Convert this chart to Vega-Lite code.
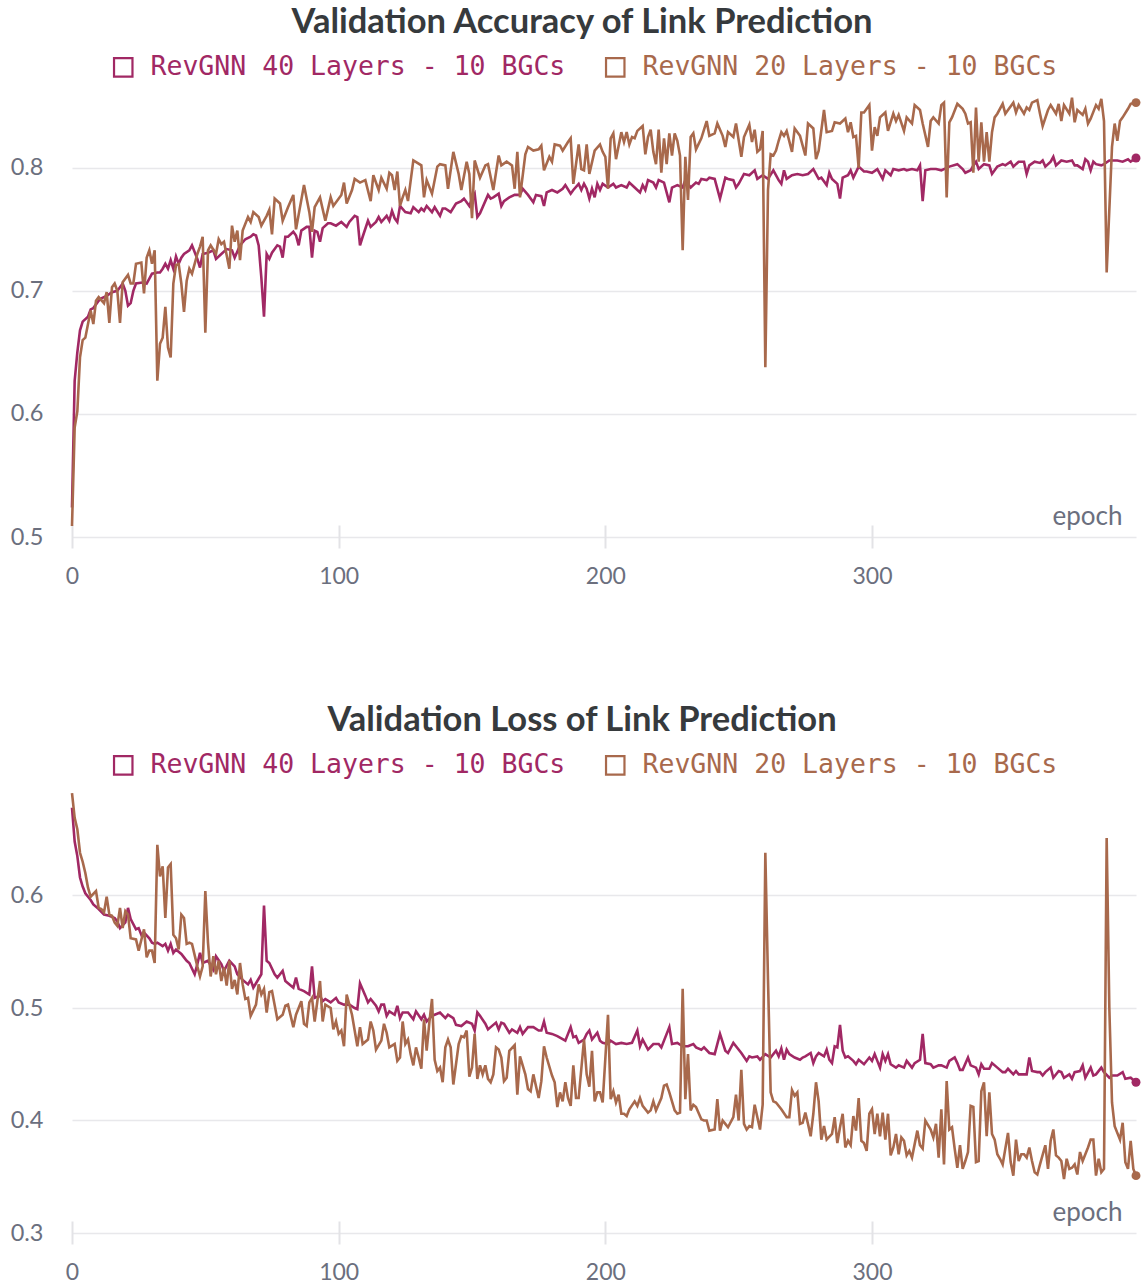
{
"$schema": "https://vega.github.io/schema/vega-lite/v6.json",
"padding": {"left": 10, "top": 4, "right": 4, "bottom": 0},
"background": "white",
"config": {"view": {"stroke": null}, "font": "Lato"},
"spacing": 114,
"resolve": {"scale": {"color": "independent"}, "legend": {"color": "independent"}},
"datasets": {
"acc40": [
{"epoch":0,"value":0.524},{"epoch":1,"value":0.627},{"epoch":2,"value":0.650},{"epoch":3,"value":0.668},{"epoch":4,"value":0.675},{"epoch":6,"value":0.679},{"epoch":7,"value":0.685},{"epoch":8,"value":0.686},{"epoch":10,"value":0.692},{"epoch":11,"value":0.694},{"epoch":13,"value":0.696},{"epoch":15,"value":0.699},{"epoch":17,"value":0.700},{"epoch":19,"value":0.706},{"epoch":20,"value":0.700},{"epoch":21,"value":0.688},{"epoch":22,"value":0.690},{"epoch":23,"value":0.700},{"epoch":24,"value":0.706},{"epoch":27,"value":0.707},{"epoch":28,"value":0.706},{"epoch":30,"value":0.714},{"epoch":32,"value":0.715},{"epoch":33,"value":0.715},{"epoch":34,"value":0.718},{"epoch":35,"value":0.722},{"epoch":36,"value":0.718},{"epoch":37,"value":0.725},{"epoch":38,"value":0.718},{"epoch":39,"value":0.728},{"epoch":40,"value":0.722},{"epoch":41,"value":0.727},{"epoch":42,"value":0.730},{"epoch":44,"value":0.733},{"epoch":45,"value":0.737},{"epoch":47,"value":0.726},{"epoch":48,"value":0.719},{"epoch":49,"value":0.730},{"epoch":51,"value":0.731},{"epoch":53,"value":0.733},{"epoch":54,"value":0.726},{"epoch":56,"value":0.730},{"epoch":58,"value":0.734},{"epoch":60,"value":0.733},{"epoch":61,"value":0.727},{"epoch":63,"value":0.737},{"epoch":65,"value":0.742},{"epoch":67,"value":0.744},{"epoch":68,"value":0.746},{"epoch":69,"value":0.745},{"epoch":70,"value":0.737},{"epoch":71,"value":0.711},{"epoch":72,"value":0.679},{"epoch":73,"value":0.730},{"epoch":74,"value":0.726},{"epoch":75,"value":0.731},{"epoch":77,"value":0.737},{"epoch":78,"value":0.736},{"epoch":79,"value":0.727},{"epoch":80,"value":0.744},{"epoch":81,"value":0.744},{"epoch":83,"value":0.748},{"epoch":84,"value":0.745},{"epoch":85,"value":0.737},{"epoch":86,"value":0.749},{"epoch":88,"value":0.752},{"epoch":89,"value":0.752},{"epoch":90,"value":0.727},{"epoch":91,"value":0.749},{"epoch":92,"value":0.748},{"epoch":93,"value":0.740},{"epoch":94,"value":0.751},{"epoch":96,"value":0.755},{"epoch":97,"value":0.755},{"epoch":99,"value":0.753},{"epoch":101,"value":0.756},{"epoch":103,"value":0.752},{"epoch":104,"value":0.756},{"epoch":106,"value":0.761},{"epoch":107,"value":0.760},{"epoch":108,"value":0.737},{"epoch":109,"value":0.744},{"epoch":111,"value":0.757},{"epoch":112,"value":0.752},{"epoch":114,"value":0.756},{"epoch":115,"value":0.760},{"epoch":116,"value":0.756},{"epoch":118,"value":0.761},{"epoch":119,"value":0.757},{"epoch":120,"value":0.765},{"epoch":121,"value":0.759},{"epoch":122,"value":0.756},{"epoch":123,"value":0.769},{"epoch":125,"value":0.764},{"epoch":127,"value":0.763},{"epoch":128,"value":0.768},{"epoch":130,"value":0.764},{"epoch":131,"value":0.767},{"epoch":132,"value":0.765},{"epoch":133,"value":0.769},{"epoch":135,"value":0.764},{"epoch":136,"value":0.768},{"epoch":138,"value":0.761},{"epoch":139,"value":0.767},{"epoch":140,"value":0.767},{"epoch":142,"value":0.764},{"epoch":144,"value":0.771},{"epoch":146,"value":0.773},{"epoch":147,"value":0.775},{"epoch":149,"value":0.769},{"epoch":150,"value":0.775},{"epoch":151,"value":0.779},{"epoch":152,"value":0.760},{"epoch":153,"value":0.763},{"epoch":156,"value":0.778},{"epoch":157,"value":0.775},{"epoch":158,"value":0.776},{"epoch":160,"value":0.779},{"epoch":161,"value":0.769},{"epoch":162,"value":0.773},{"epoch":164,"value":0.776},{"epoch":166,"value":0.778},{"epoch":168,"value":0.778},{"epoch":169,"value":0.783},{"epoch":171,"value":0.778},{"epoch":173,"value":0.772},{"epoch":174,"value":0.778},{"epoch":176,"value":0.777},{"epoch":177,"value":0.769},{"epoch":178,"value":0.780},{"epoch":180,"value":0.782},{"epoch":182,"value":0.780},{"epoch":184,"value":0.783},{"epoch":185,"value":0.786},{"epoch":187,"value":0.779},{"epoch":188,"value":0.782},{"epoch":190,"value":0.787},{"epoch":191,"value":0.782},{"epoch":192,"value":0.787},{"epoch":193,"value":0.783},{"epoch":194,"value":0.775},{"epoch":195,"value":0.783},{"epoch":196,"value":0.776},{"epoch":197,"value":0.787},{"epoch":198,"value":0.782},{"epoch":199,"value":0.787},{"epoch":201,"value":0.784},{"epoch":203,"value":0.787},{"epoch":204,"value":0.784},{"epoch":206,"value":0.786},{"epoch":208,"value":0.784},{"epoch":209,"value":0.788},{"epoch":211,"value":0.784},{"epoch":213,"value":0.780},{"epoch":214,"value":0.786},{"epoch":215,"value":0.782},{"epoch":216,"value":0.790},{"epoch":218,"value":0.788},{"epoch":219,"value":0.784},{"epoch":220,"value":0.790},{"epoch":222,"value":0.788},{"epoch":224,"value":0.772},{"epoch":225,"value":0.784},{"epoch":227,"value":0.786},{"epoch":229,"value":0.784},{"epoch":230,"value":0.790},{"epoch":232,"value":0.784},{"epoch":234,"value":0.788},{"epoch":235,"value":0.787},{"epoch":236,"value":0.791},{"epoch":238,"value":0.790},{"epoch":239,"value":0.792},{"epoch":241,"value":0.791},{"epoch":243,"value":0.775},{"epoch":245,"value":0.792},{"epoch":246,"value":0.791},{"epoch":248,"value":0.790},{"epoch":249,"value":0.784},{"epoch":250,"value":0.787},{"epoch":252,"value":0.795},{"epoch":254,"value":0.794},{"epoch":256,"value":0.798},{"epoch":257,"value":0.791},{"epoch":259,"value":0.794},{"epoch":261,"value":0.791},{"epoch":263,"value":0.798},{"epoch":265,"value":0.790},{"epoch":266,"value":0.787},{"epoch":267,"value":0.798},{"epoch":268,"value":0.791},{"epoch":270,"value":0.794},{"epoch":272,"value":0.795},{"epoch":274,"value":0.794},{"epoch":276,"value":0.795},{"epoch":278,"value":0.799},{"epoch":280,"value":0.791},{"epoch":281,"value":0.792},{"epoch":283,"value":0.786},{"epoch":284,"value":0.796},{"epoch":285,"value":0.791},{"epoch":287,"value":0.787},{"epoch":288,"value":0.775},{"epoch":289,"value":0.792},{"epoch":291,"value":0.794},{"epoch":292,"value":0.798},{"epoch":293,"value":0.792},{"epoch":295,"value":0.801},{"epoch":297,"value":0.797},{"epoch":298,"value":0.797},{"epoch":300,"value":0.796},{"epoch":302,"value":0.799},{"epoch":304,"value":0.791},{"epoch":305,"value":0.798},{"epoch":307,"value":0.794},{"epoch":308,"value":0.799},{"epoch":310,"value":0.798},{"epoch":312,"value":0.799},{"epoch":313,"value":0.798},{"epoch":315,"value":0.799},{"epoch":317,"value":0.798},{"epoch":318,"value":0.802},{"epoch":319,"value":0.773},{"epoch":320,"value":0.798},{"epoch":322,"value":0.799},{"epoch":324,"value":0.799},{"epoch":326,"value":0.798},{"epoch":327,"value":0.799},{"epoch":329,"value":0.801},{"epoch":332,"value":0.803},{"epoch":334,"value":0.799},{"epoch":335,"value":0.796},{"epoch":337,"value":0.798},{"epoch":338,"value":0.802},{"epoch":339,"value":0.805},{"epoch":340,"value":0.799},{"epoch":342,"value":0.803},{"epoch":344,"value":0.802},{"epoch":345,"value":0.795},{"epoch":347,"value":0.801},{"epoch":349,"value":0.803},{"epoch":350,"value":0.802},{"epoch":352,"value":0.805},{"epoch":353,"value":0.801},{"epoch":355,"value":0.805},{"epoch":357,"value":0.805},{"epoch":358,"value":0.795},{"epoch":359,"value":0.802},{"epoch":361,"value":0.805},{"epoch":363,"value":0.804},{"epoch":364,"value":0.806},{"epoch":365,"value":0.801},{"epoch":367,"value":0.805},{"epoch":368,"value":0.809},{"epoch":369,"value":0.802},{"epoch":371,"value":0.806},{"epoch":373,"value":0.805},{"epoch":375,"value":0.806},{"epoch":376,"value":0.802},{"epoch":377,"value":0.802},{"epoch":379,"value":0.799},{"epoch":380,"value":0.807},{"epoch":381,"value":0.805},{"epoch":382,"value":0.798},{"epoch":383,"value":0.805},{"epoch":384,"value":0.803},{"epoch":386,"value":0.802},{"epoch":387,"value":0.803},{"epoch":389,"value":0.806},{"epoch":391,"value":0.806},{"epoch":392,"value":0.806},{"epoch":394,"value":0.805},{"epoch":396,"value":0.807},{"epoch":397,"value":0.805},{"epoch":399,"value":0.808}
],
"acc20": [
{"epoch":0,"value":0.509},{"epoch":1,"value":0.589},{"epoch":2,"value":0.602},{"epoch":3,"value":0.646},{"epoch":4,"value":0.660},{"epoch":5,"value":0.662},{"epoch":6,"value":0.673},{"epoch":7,"value":0.684},{"epoch":8,"value":0.673},{"epoch":9,"value":0.692},{"epoch":10,"value":0.695},{"epoch":12,"value":0.690},{"epoch":13,"value":0.699},{"epoch":14,"value":0.674},{"epoch":15,"value":0.703},{"epoch":16,"value":0.706},{"epoch":17,"value":0.700},{"epoch":18,"value":0.674},{"epoch":19,"value":0.707},{"epoch":21,"value":0.713},{"epoch":22,"value":0.706},{"epoch":23,"value":0.706},{"epoch":24,"value":0.722},{"epoch":26,"value":0.723},{"epoch":27,"value":0.698},{"epoch":28,"value":0.727},{"epoch":29,"value":0.733},{"epoch":30,"value":0.722},{"epoch":31,"value":0.733},{"epoch":32,"value":0.627},{"epoch":33,"value":0.657},{"epoch":34,"value":0.662},{"epoch":35,"value":0.687},{"epoch":36,"value":0.654},{"epoch":37,"value":0.646},{"epoch":38,"value":0.706},{"epoch":39,"value":0.721},{"epoch":40,"value":0.722},{"epoch":41,"value":0.706},{"epoch":42,"value":0.683},{"epoch":43,"value":0.708},{"epoch":44,"value":0.718},{"epoch":45,"value":0.714},{"epoch":47,"value":0.730},{"epoch":48,"value":0.736},{"epoch":49,"value":0.744},{"epoch":50,"value":0.666},{"epoch":51,"value":0.733},{"epoch":52,"value":0.737},{"epoch":54,"value":0.730},{"epoch":55,"value":0.742},{"epoch":56,"value":0.738},{"epoch":57,"value":0.740},{"epoch":59,"value":0.718},{"epoch":60,"value":0.753},{"epoch":61,"value":0.740},{"epoch":62,"value":0.749},{"epoch":63,"value":0.725},{"epoch":64,"value":0.749},{"epoch":66,"value":0.760},{"epoch":67,"value":0.756},{"epoch":68,"value":0.764},{"epoch":70,"value":0.760},{"epoch":71,"value":0.753},{"epoch":73,"value":0.761},{"epoch":74,"value":0.766},{"epoch":75,"value":0.746},{"epoch":76,"value":0.775},{"epoch":78,"value":0.771},{"epoch":79,"value":0.757},{"epoch":81,"value":0.768},{"epoch":83,"value":0.778},{"epoch":84,"value":0.750},{"epoch":87,"value":0.786},{"epoch":89,"value":0.764},{"epoch":90,"value":0.748},{"epoch":91,"value":0.768},{"epoch":93,"value":0.776},{"epoch":95,"value":0.757},{"epoch":97,"value":0.776},{"epoch":98,"value":0.769},{"epoch":101,"value":0.778},{"epoch":102,"value":0.788},{"epoch":103,"value":0.771},{"epoch":105,"value":0.782},{"epoch":106,"value":0.791},{"epoch":108,"value":0.788},{"epoch":110,"value":0.790},{"epoch":112,"value":0.773},{"epoch":113,"value":0.794},{"epoch":115,"value":0.782},{"epoch":116,"value":0.792},{"epoch":118,"value":0.783},{"epoch":119,"value":0.796},{"epoch":120,"value":0.794},{"epoch":121,"value":0.782},{"epoch":122,"value":0.797},{"epoch":123,"value":0.769},{"epoch":124,"value":0.776},{"epoch":125,"value":0.782},{"epoch":126,"value":0.773},{"epoch":128,"value":0.806},{"epoch":131,"value":0.802},{"epoch":132,"value":0.776},{"epoch":133,"value":0.790},{"epoch":135,"value":0.779},{"epoch":137,"value":0.801},{"epoch":138,"value":0.803},{"epoch":140,"value":0.802},{"epoch":141,"value":0.783},{"epoch":143,"value":0.813},{"epoch":145,"value":0.795},{"epoch":146,"value":0.782},{"epoch":148,"value":0.805},{"epoch":149,"value":0.795},{"epoch":150,"value":0.759},{"epoch":151,"value":0.806},{"epoch":153,"value":0.792},{"epoch":155,"value":0.802},{"epoch":156,"value":0.803},{"epoch":158,"value":0.782},{"epoch":160,"value":0.810},{"epoch":161,"value":0.802},{"epoch":163,"value":0.805},{"epoch":165,"value":0.802},{"epoch":166,"value":0.783},{"epoch":167,"value":0.813},{"epoch":168,"value":0.776},{"epoch":170,"value":0.811},{"epoch":171,"value":0.817},{"epoch":173,"value":0.814},{"epoch":175,"value":0.815},{"epoch":176,"value":0.818},{"epoch":177,"value":0.798},{"epoch":179,"value":0.809},{"epoch":180,"value":0.805},{"epoch":181,"value":0.819},{"epoch":183,"value":0.818},{"epoch":184,"value":0.814},{"epoch":186,"value":0.821},{"epoch":187,"value":0.824},{"epoch":188,"value":0.787},{"epoch":190,"value":0.819},{"epoch":191,"value":0.799},{"epoch":192,"value":0.798},{"epoch":193,"value":0.819},{"epoch":194,"value":0.795},{"epoch":196,"value":0.814},{"epoch":198,"value":0.819},{"epoch":199,"value":0.813},{"epoch":200,"value":0.809},{"epoch":201,"value":0.783},{"epoch":202,"value":0.824},{"epoch":203,"value":0.828},{"epoch":204,"value":0.807},{"epoch":206,"value":0.829},{"epoch":207,"value":0.821},{"epoch":208,"value":0.829},{"epoch":209,"value":0.819},{"epoch":210,"value":0.825},{"epoch":211,"value":0.824},{"epoch":212,"value":0.830},{"epoch":214,"value":0.834},{"epoch":215,"value":0.811},{"epoch":216,"value":0.825},{"epoch":217,"value":0.831},{"epoch":218,"value":0.813},{"epoch":219,"value":0.803},{"epoch":220,"value":0.831},{"epoch":221,"value":0.796},{"epoch":222,"value":0.824},{"epoch":223,"value":0.803},{"epoch":224,"value":0.828},{"epoch":225,"value":0.810},{"epoch":226,"value":0.828},{"epoch":227,"value":0.822},{"epoch":228,"value":0.810},{"epoch":229,"value":0.733},{"epoch":230,"value":0.809},{"epoch":231,"value":0.774},{"epoch":232,"value":0.825},{"epoch":233,"value":0.828},{"epoch":234,"value":0.815},{"epoch":236,"value":0.824},{"epoch":238,"value":0.838},{"epoch":239,"value":0.826},{"epoch":241,"value":0.828},{"epoch":242,"value":0.836},{"epoch":244,"value":0.826},{"epoch":245,"value":0.817},{"epoch":246,"value":0.829},{"epoch":248,"value":0.825},{"epoch":249,"value":0.836},{"epoch":251,"value":0.809},{"epoch":252,"value":0.825},{"epoch":254,"value":0.835},{"epoch":255,"value":0.821},{"epoch":256,"value":0.831},{"epoch":257,"value":0.813},{"epoch":258,"value":0.815},{"epoch":259,"value":0.830},{"epoch":260,"value":0.638},{"epoch":261,"value":0.782},{"epoch":262,"value":0.811},{"epoch":263,"value":0.810},{"epoch":264,"value":0.814},{"epoch":265,"value":0.822},{"epoch":266,"value":0.829},{"epoch":267,"value":0.826},{"epoch":268,"value":0.830},{"epoch":270,"value":0.813},{"epoch":271,"value":0.832},{"epoch":273,"value":0.826},{"epoch":275,"value":0.810},{"epoch":276,"value":0.836},{"epoch":278,"value":0.832},{"epoch":279,"value":0.807},{"epoch":280,"value":0.814},{"epoch":282,"value":0.847},{"epoch":283,"value":0.829},{"epoch":285,"value":0.830},{"epoch":286,"value":0.837},{"epoch":288,"value":0.836},{"epoch":290,"value":0.840},{"epoch":291,"value":0.829},{"epoch":292,"value":0.837},{"epoch":293,"value":0.825},{"epoch":294,"value":0.826},{"epoch":295,"value":0.800},{"epoch":296,"value":0.845},{"epoch":297,"value":0.845},{"epoch":299,"value":0.851},{"epoch":300,"value":0.814},{"epoch":301,"value":0.833},{"epoch":302,"value":0.826},{"epoch":303,"value":0.841},{"epoch":305,"value":0.845},{"epoch":306,"value":0.830},{"epoch":308,"value":0.844},{"epoch":309,"value":0.838},{"epoch":310,"value":0.843},{"epoch":312,"value":0.830},{"epoch":313,"value":0.841},{"epoch":315,"value":0.836},{"epoch":316,"value":0.851},{"epoch":318,"value":0.847},{"epoch":319,"value":0.836},{"epoch":321,"value":0.817},{"epoch":322,"value":0.838},{"epoch":323,"value":0.841},{"epoch":325,"value":0.836},{"epoch":326,"value":0.851},{"epoch":327,"value":0.853},{"epoch":328,"value":0.776},{"epoch":329,"value":0.837},{"epoch":330,"value":0.841},{"epoch":332,"value":0.852},{"epoch":334,"value":0.848},{"epoch":335,"value":0.844},{"epoch":336,"value":0.836},{"epoch":337,"value":0.837},{"epoch":338,"value":0.796},{"epoch":339,"value":0.849},{"epoch":340,"value":0.805},{"epoch":341,"value":0.837},{"epoch":342,"value":0.805},{"epoch":343,"value":0.829},{"epoch":344,"value":0.805},{"epoch":345,"value":0.829},{"epoch":346,"value":0.841},{"epoch":347,"value":0.844},{"epoch":349,"value":0.852},{"epoch":350,"value":0.844},{"epoch":351,"value":0.847},{"epoch":353,"value":0.853},{"epoch":354,"value":0.845},{"epoch":355,"value":0.851},{"epoch":357,"value":0.844},{"epoch":358,"value":0.849},{"epoch":359,"value":0.847},{"epoch":360,"value":0.853},{"epoch":362,"value":0.855},{"epoch":363,"value":0.844},{"epoch":364,"value":0.834},{"epoch":366,"value":0.847},{"epoch":367,"value":0.851},{"epoch":369,"value":0.844},{"epoch":370,"value":0.852},{"epoch":371,"value":0.838},{"epoch":372,"value":0.851},{"epoch":374,"value":0.844},{"epoch":375,"value":0.857},{"epoch":376,"value":0.837},{"epoch":377,"value":0.847},{"epoch":379,"value":0.843},{"epoch":380,"value":0.848},{"epoch":381,"value":0.836},{"epoch":382,"value":0.840},{"epoch":384,"value":0.851},{"epoch":385,"value":0.848},{"epoch":386,"value":0.856},{"epoch":387,"value":0.838},{"epoch":388,"value":0.715},{"epoch":390,"value":0.817},{"epoch":391,"value":0.836},{"epoch":392,"value":0.822},{"epoch":393,"value":0.838},{"epoch":394,"value":0.841},{"epoch":396,"value":0.848},{"epoch":397,"value":0.852},{"epoch":399,"value":0.853}
],
"loss40": [
{"epoch":0,"value":0.678},{"epoch":1,"value":0.648},{"epoch":2,"value":0.635},{"epoch":3,"value":0.616},{"epoch":4,"value":0.608},{"epoch":5,"value":0.602},{"epoch":7,"value":0.596},{"epoch":8,"value":0.592},{"epoch":10,"value":0.588},{"epoch":12,"value":0.583},{"epoch":14,"value":0.582},{"epoch":16,"value":0.580},{"epoch":17,"value":0.577},{"epoch":18,"value":0.571},{"epoch":20,"value":0.576},{"epoch":21,"value":0.589},{"epoch":22,"value":0.579},{"epoch":24,"value":0.570},{"epoch":25,"value":0.571},{"epoch":26,"value":0.565},{"epoch":27,"value":0.567},{"epoch":29,"value":0.562},{"epoch":30,"value":0.558},{"epoch":31,"value":0.557},{"epoch":32,"value":0.558},{"epoch":34,"value":0.555},{"epoch":35,"value":0.557},{"epoch":36,"value":0.551},{"epoch":37,"value":0.557},{"epoch":38,"value":0.549},{"epoch":39,"value":0.552},{"epoch":41,"value":0.548},{"epoch":42,"value":0.545},{"epoch":43,"value":0.542},{"epoch":44,"value":0.540},{"epoch":46,"value":0.530},{"epoch":47,"value":0.539},{"epoch":48,"value":0.549},{"epoch":49,"value":0.540},{"epoch":51,"value":0.542},{"epoch":53,"value":0.534},{"epoch":54,"value":0.546},{"epoch":56,"value":0.539},{"epoch":57,"value":0.533},{"epoch":59,"value":0.542},{"epoch":61,"value":0.537},{"epoch":62,"value":0.530},{"epoch":64,"value":0.525},{"epoch":66,"value":0.521},{"epoch":67,"value":0.525},{"epoch":68,"value":0.518},{"epoch":69,"value":0.522},{"epoch":71,"value":0.530},{"epoch":72,"value":0.591},{"epoch":73,"value":0.542},{"epoch":74,"value":0.540},{"epoch":76,"value":0.530},{"epoch":77,"value":0.527},{"epoch":78,"value":0.530},{"epoch":79,"value":0.533},{"epoch":80,"value":0.524},{"epoch":81,"value":0.522},{"epoch":83,"value":0.518},{"epoch":84,"value":0.527},{"epoch":85,"value":0.517},{"epoch":87,"value":0.515},{"epoch":89,"value":0.512},{"epoch":90,"value":0.537},{"epoch":91,"value":0.509},{"epoch":93,"value":0.511},{"epoch":94,"value":0.506},{"epoch":95,"value":0.508},{"epoch":97,"value":0.505},{"epoch":99,"value":0.509},{"epoch":100,"value":0.505},{"epoch":102,"value":0.503},{"epoch":104,"value":0.503},{"epoch":106,"value":0.500},{"epoch":107,"value":0.499},{"epoch":108,"value":0.522},{"epoch":110,"value":0.511},{"epoch":111,"value":0.505},{"epoch":112,"value":0.508},{"epoch":114,"value":0.502},{"epoch":115,"value":0.497},{"epoch":116,"value":0.503},{"epoch":117,"value":0.503},{"epoch":118,"value":0.493},{"epoch":119,"value":0.497},{"epoch":121,"value":0.494},{"epoch":122,"value":0.502},{"epoch":123,"value":0.491},{"epoch":124,"value":0.496},{"epoch":126,"value":0.496},{"epoch":128,"value":0.490},{"epoch":129,"value":0.497},{"epoch":131,"value":0.490},{"epoch":132,"value":0.494},{"epoch":133,"value":0.488},{"epoch":135,"value":0.493},{"epoch":136,"value":0.494},{"epoch":138,"value":0.496},{"epoch":140,"value":0.491},{"epoch":141,"value":0.494},{"epoch":143,"value":0.491},{"epoch":144,"value":0.485},{"epoch":146,"value":0.484},{"epoch":148,"value":0.488},{"epoch":150,"value":0.486},{"epoch":151,"value":0.480},{"epoch":152,"value":0.496},{"epoch":153,"value":0.493},{"epoch":155,"value":0.486},{"epoch":156,"value":0.481},{"epoch":157,"value":0.483},{"epoch":159,"value":0.487},{"epoch":160,"value":0.481},{"epoch":161,"value":0.487},{"epoch":162,"value":0.486},{"epoch":164,"value":0.478},{"epoch":165,"value":0.481},{"epoch":167,"value":0.478},{"epoch":168,"value":0.483},{"epoch":169,"value":0.477},{"epoch":171,"value":0.483},{"epoch":173,"value":0.483},{"epoch":175,"value":0.480},{"epoch":176,"value":0.480},{"epoch":177,"value":0.488},{"epoch":178,"value":0.478},{"epoch":180,"value":0.477},{"epoch":182,"value":0.475},{"epoch":185,"value":0.471},{"epoch":187,"value":0.483},{"epoch":188,"value":0.474},{"epoch":189,"value":0.475},{"epoch":190,"value":0.469},{"epoch":192,"value":0.472},{"epoch":193,"value":0.477},{"epoch":194,"value":0.480},{"epoch":195,"value":0.472},{"epoch":197,"value":0.478},{"epoch":198,"value":0.471},{"epoch":199,"value":0.469},{"epoch":201,"value":0.468},{"epoch":202,"value":0.471},{"epoch":204,"value":0.468},{"epoch":206,"value":0.469},{"epoch":208,"value":0.468},{"epoch":210,"value":0.469},{"epoch":212,"value":0.480},{"epoch":213,"value":0.466},{"epoch":214,"value":0.472},{"epoch":216,"value":0.463},{"epoch":218,"value":0.468},{"epoch":220,"value":0.468},{"epoch":221,"value":0.465},{"epoch":224,"value":0.483},{"epoch":225,"value":0.468},{"epoch":227,"value":0.469},{"epoch":229,"value":0.466},{"epoch":231,"value":0.466},{"epoch":233,"value":0.468},{"epoch":234,"value":0.465},{"epoch":236,"value":0.463},{"epoch":237,"value":0.465},{"epoch":239,"value":0.460},{"epoch":241,"value":0.459},{"epoch":243,"value":0.477},{"epoch":245,"value":0.462},{"epoch":246,"value":0.460},{"epoch":248,"value":0.469},{"epoch":249,"value":0.466},{"epoch":251,"value":0.460},{"epoch":253,"value":0.453},{"epoch":254,"value":0.457},{"epoch":255,"value":0.456},{"epoch":257,"value":0.457},{"epoch":258,"value":0.454},{"epoch":260,"value":0.459},{"epoch":262,"value":0.456},{"epoch":264,"value":0.462},{"epoch":265,"value":0.457},{"epoch":266,"value":0.464},{"epoch":267,"value":0.454},{"epoch":268,"value":0.463},{"epoch":269,"value":0.459},{"epoch":271,"value":0.456},{"epoch":273,"value":0.454},{"epoch":274,"value":0.456},{"epoch":275,"value":0.457},{"epoch":277,"value":0.460},{"epoch":278,"value":0.451},{"epoch":279,"value":0.457},{"epoch":280,"value":0.460},{"epoch":282,"value":0.457},{"epoch":283,"value":0.463},{"epoch":284,"value":0.454},{"epoch":285,"value":0.451},{"epoch":286,"value":0.466},{"epoch":287,"value":0.465},{"epoch":288,"value":0.485},{"epoch":289,"value":0.462},{"epoch":290,"value":0.456},{"epoch":291,"value":0.457},{"epoch":293,"value":0.453},{"epoch":294,"value":0.450},{"epoch":295,"value":0.454},{"epoch":297,"value":0.450},{"epoch":299,"value":0.456},{"epoch":300,"value":0.453},{"epoch":301,"value":0.459},{"epoch":302,"value":0.453},{"epoch":303,"value":0.447},{"epoch":304,"value":0.459},{"epoch":305,"value":0.453},{"epoch":306,"value":0.459},{"epoch":307,"value":0.450},{"epoch":309,"value":0.447},{"epoch":310,"value":0.449},{"epoch":312,"value":0.447},{"epoch":313,"value":0.453},{"epoch":315,"value":0.447},{"epoch":316,"value":0.451},{"epoch":318,"value":0.454},{"epoch":319,"value":0.477},{"epoch":320,"value":0.451},{"epoch":322,"value":0.450},{"epoch":323,"value":0.447},{"epoch":325,"value":0.449},{"epoch":326,"value":0.449},{"epoch":328,"value":0.447},{"epoch":329,"value":0.453},{"epoch":331,"value":0.456},{"epoch":332,"value":0.451},{"epoch":333,"value":0.445},{"epoch":334,"value":0.445},{"epoch":336,"value":0.456},{"epoch":337,"value":0.449},{"epoch":339,"value":0.447},{"epoch":340,"value":0.441},{"epoch":341,"value":0.450},{"epoch":342,"value":0.446},{"epoch":344,"value":0.446},{"epoch":345,"value":0.451},{"epoch":347,"value":0.447},{"epoch":349,"value":0.443},{"epoch":350,"value":0.443},{"epoch":351,"value":0.446},{"epoch":353,"value":0.441},{"epoch":354,"value":0.444},{"epoch":355,"value":0.441},{"epoch":357,"value":0.441},{"epoch":358,"value":0.441},{"epoch":359,"value":0.456},{"epoch":360,"value":0.444},{"epoch":362,"value":0.443},{"epoch":363,"value":0.443},{"epoch":364,"value":0.440},{"epoch":365,"value":0.443},{"epoch":367,"value":0.447},{"epoch":368,"value":0.438},{"epoch":370,"value":0.444},{"epoch":371,"value":0.443},{"epoch":372,"value":0.438},{"epoch":374,"value":0.441},{"epoch":375,"value":0.437},{"epoch":376,"value":0.443},{"epoch":378,"value":0.444},{"epoch":379,"value":0.449},{"epoch":380,"value":0.438},{"epoch":382,"value":0.447},{"epoch":383,"value":0.440},{"epoch":384,"value":0.441},{"epoch":386,"value":0.447},{"epoch":387,"value":0.443},{"epoch":389,"value":0.438},{"epoch":390,"value":0.440},{"epoch":392,"value":0.440},{"epoch":394,"value":0.443},{"epoch":395,"value":0.437},{"epoch":397,"value":0.438},{"epoch":399,"value":0.434}
],
"loss20": [
{"epoch":0,"value":0.691},{"epoch":1,"value":0.669},{"epoch":2,"value":0.659},{"epoch":3,"value":0.638},{"epoch":4,"value":0.630},{"epoch":5,"value":0.620},{"epoch":6,"value":0.607},{"epoch":7,"value":0.599},{"epoch":9,"value":0.604},{"epoch":10,"value":0.589},{"epoch":11,"value":0.588},{"epoch":12,"value":0.585},{"epoch":13,"value":0.599},{"epoch":14,"value":0.583},{"epoch":15,"value":0.582},{"epoch":16,"value":0.576},{"epoch":17,"value":0.573},{"epoch":18,"value":0.589},{"epoch":19,"value":0.571},{"epoch":20,"value":0.586},{"epoch":21,"value":0.583},{"epoch":22,"value":0.562},{"epoch":24,"value":0.561},{"epoch":25,"value":0.551},{"epoch":27,"value":0.570},{"epoch":28,"value":0.545},{"epoch":29,"value":0.551},{"epoch":30,"value":0.551},{"epoch":31,"value":0.540},{"epoch":32,"value":0.645},{"epoch":33,"value":0.617},{"epoch":34,"value":0.626},{"epoch":35,"value":0.580},{"epoch":36,"value":0.625},{"epoch":37,"value":0.628},{"epoch":38,"value":0.565},{"epoch":39,"value":0.562},{"epoch":40,"value":0.552},{"epoch":41,"value":0.583},{"epoch":42,"value":0.580},{"epoch":43,"value":0.557},{"epoch":44,"value":0.558},{"epoch":45,"value":0.557},{"epoch":47,"value":0.537},{"epoch":48,"value":0.528},{"epoch":49,"value":0.537},{"epoch":50,"value":0.604},{"epoch":51,"value":0.558},{"epoch":52,"value":0.528},{"epoch":53,"value":0.546},{"epoch":54,"value":0.530},{"epoch":55,"value":0.542},{"epoch":56,"value":0.524},{"epoch":57,"value":0.536},{"epoch":58,"value":0.520},{"epoch":59,"value":0.542},{"epoch":60,"value":0.517},{"epoch":61,"value":0.525},{"epoch":62,"value":0.512},{"epoch":63,"value":0.540},{"epoch":64,"value":0.521},{"epoch":65,"value":0.508},{"epoch":66,"value":0.509},{"epoch":67,"value":0.493},{"epoch":69,"value":0.503},{"epoch":70,"value":0.521},{"epoch":71,"value":0.512},{"epoch":72,"value":0.517},{"epoch":73,"value":0.496},{"epoch":74,"value":0.514},{"epoch":75,"value":0.515},{"epoch":77,"value":0.490},{"epoch":79,"value":0.494},{"epoch":80,"value":0.502},{"epoch":81,"value":0.503},{"epoch":83,"value":0.483},{"epoch":84,"value":0.494},{"epoch":85,"value":0.500},{"epoch":86,"value":0.506},{"epoch":87,"value":0.486},{"epoch":88,"value":0.484},{"epoch":89,"value":0.505},{"epoch":90,"value":0.509},{"epoch":91,"value":0.488},{"epoch":92,"value":0.506},{"epoch":93,"value":0.524},{"epoch":94,"value":0.488},{"epoch":95,"value":0.503},{"epoch":97,"value":0.500},{"epoch":98,"value":0.481},{"epoch":99,"value":0.488},{"epoch":100,"value":0.477},{"epoch":101,"value":0.480},{"epoch":102,"value":0.466},{"epoch":103,"value":0.512},{"epoch":105,"value":0.494},{"epoch":106,"value":0.480},{"epoch":107,"value":0.466},{"epoch":108,"value":0.483},{"epoch":109,"value":0.468},{"epoch":111,"value":0.472},{"epoch":112,"value":0.488},{"epoch":113,"value":0.480},{"epoch":114,"value":0.463},{"epoch":116,"value":0.471},{"epoch":117,"value":0.486},{"epoch":118,"value":0.478},{"epoch":119,"value":0.465},{"epoch":121,"value":0.468},{"epoch":122,"value":0.453},{"epoch":123,"value":0.456},{"epoch":124,"value":0.488},{"epoch":125,"value":0.468},{"epoch":126,"value":0.472},{"epoch":127,"value":0.459},{"epoch":128,"value":0.449},{"epoch":129,"value":0.465},{"epoch":130,"value":0.456},{"epoch":131,"value":0.446},{"epoch":132,"value":0.490},{"epoch":133,"value":0.462},{"epoch":134,"value":0.487},{"epoch":135,"value":0.508},{"epoch":136,"value":0.454},{"epoch":137,"value":0.444},{"epoch":138,"value":0.447},{"epoch":139,"value":0.434},{"epoch":140,"value":0.465},{"epoch":141,"value":0.472},{"epoch":142,"value":0.465},{"epoch":143,"value":0.432},{"epoch":145,"value":0.468},{"epoch":146,"value":0.475},{"epoch":147,"value":0.474},{"epoch":148,"value":0.480},{"epoch":149,"value":0.439},{"epoch":150,"value":0.447},{"epoch":151,"value":0.477},{"epoch":152,"value":0.437},{"epoch":153,"value":0.449},{"epoch":154,"value":0.441},{"epoch":155,"value":0.449},{"epoch":156,"value":0.437},{"epoch":157,"value":0.434},{"epoch":158,"value":0.441},{"epoch":159,"value":0.465},{"epoch":160,"value":0.463},{"epoch":161,"value":0.456},{"epoch":162,"value":0.435},{"epoch":163,"value":0.438},{"epoch":164,"value":0.462},{"epoch":166,"value":0.467},{"epoch":167,"value":0.423},{"epoch":168,"value":0.457},{"epoch":170,"value":0.441},{"epoch":171,"value":0.428},{"epoch":172,"value":0.426},{"epoch":173,"value":0.441},{"epoch":175,"value":0.420},{"epoch":176,"value":0.435},{"epoch":177,"value":0.466},{"epoch":178,"value":0.456},{"epoch":180,"value":0.440},{"epoch":181,"value":0.434},{"epoch":182,"value":0.412},{"epoch":183,"value":0.425},{"epoch":184,"value":0.417},{"epoch":185,"value":0.434},{"epoch":186,"value":0.420},{"epoch":187,"value":0.413},{"epoch":188,"value":0.449},{"epoch":189,"value":0.420},{"epoch":190,"value":0.420},{"epoch":192,"value":0.472},{"epoch":193,"value":0.441},{"epoch":194,"value":0.430},{"epoch":195,"value":0.462},{"epoch":196,"value":0.417},{"epoch":197,"value":0.425},{"epoch":198,"value":0.425},{"epoch":199,"value":0.416},{"epoch":201,"value":0.494},{"epoch":202,"value":0.419},{"epoch":203,"value":0.426},{"epoch":204,"value":0.416},{"epoch":205,"value":0.423},{"epoch":206,"value":0.406},{"epoch":207,"value":0.406},{"epoch":208,"value":0.404},{"epoch":209,"value":0.410},{"epoch":211,"value":0.417},{"epoch":212,"value":0.413},{"epoch":213,"value":0.420},{"epoch":214,"value":0.413},{"epoch":216,"value":0.407},{"epoch":217,"value":0.409},{"epoch":218,"value":0.417},{"epoch":219,"value":0.409},{"epoch":221,"value":0.420},{"epoch":222,"value":0.431},{"epoch":223,"value":0.432},{"epoch":224,"value":0.425},{"epoch":226,"value":0.409},{"epoch":227,"value":0.406},{"epoch":228,"value":0.407},{"epoch":229,"value":0.517},{"epoch":230,"value":0.419},{"epoch":231,"value":0.459},{"epoch":232,"value":0.409},{"epoch":233,"value":0.414},{"epoch":234,"value":0.412},{"epoch":236,"value":0.401},{"epoch":237,"value":0.400},{"epoch":238,"value":0.400},{"epoch":239,"value":0.391},{"epoch":241,"value":0.392},{"epoch":242,"value":0.419},{"epoch":243,"value":0.391},{"epoch":244,"value":0.400},{"epoch":245,"value":0.397},{"epoch":246,"value":0.394},{"epoch":248,"value":0.403},{"epoch":249,"value":0.423},{"epoch":250,"value":0.400},{"epoch":251,"value":0.445},{"epoch":252,"value":0.397},{"epoch":253,"value":0.392},{"epoch":254,"value":0.395},{"epoch":255,"value":0.394},{"epoch":256,"value":0.414},{"epoch":258,"value":0.392},{"epoch":259,"value":0.414},{"epoch":260,"value":0.638},{"epoch":261,"value":0.525},{"epoch":262,"value":0.425},{"epoch":263,"value":0.417},{"epoch":264,"value":0.416},{"epoch":266,"value":0.410},{"epoch":268,"value":0.403},{"epoch":269,"value":0.403},{"epoch":270,"value":0.427},{"epoch":271,"value":0.422},{"epoch":272,"value":0.425},{"epoch":273,"value":0.397},{"epoch":274,"value":0.398},{"epoch":275,"value":0.407},{"epoch":276,"value":0.397},{"epoch":277,"value":0.386},{"epoch":278,"value":0.406},{"epoch":279,"value":0.434},{"epoch":280,"value":0.417},{"epoch":281,"value":0.383},{"epoch":282,"value":0.395},{"epoch":283,"value":0.383},{"epoch":285,"value":0.388},{"epoch":286,"value":0.403},{"epoch":287,"value":0.380},{"epoch":288,"value":0.394},{"epoch":289,"value":0.406},{"epoch":290,"value":0.376},{"epoch":291,"value":0.382},{"epoch":292,"value":0.378},{"epoch":293,"value":0.404},{"epoch":294,"value":0.391},{"epoch":295,"value":0.420},{"epoch":296,"value":0.382},{"epoch":297,"value":0.380},{"epoch":298,"value":0.373},{"epoch":299,"value":0.406},{"epoch":300,"value":0.410},{"epoch":301,"value":0.388},{"epoch":302,"value":0.406},{"epoch":303,"value":0.386},{"epoch":304,"value":0.407},{"epoch":305,"value":0.383},{"epoch":306,"value":0.406},{"epoch":307,"value":0.369},{"epoch":308,"value":0.376},{"epoch":309,"value":0.388},{"epoch":310,"value":0.370},{"epoch":311,"value":0.385},{"epoch":312,"value":0.382},{"epoch":313,"value":0.369},{"epoch":314,"value":0.373},{"epoch":315,"value":0.367},{"epoch":317,"value":0.391},{"epoch":318,"value":0.378},{"epoch":319,"value":0.375},{"epoch":320,"value":0.400},{"epoch":322,"value":0.392},{"epoch":323,"value":0.385},{"epoch":324,"value":0.397},{"epoch":325,"value":0.367},{"epoch":326,"value":0.410},{"epoch":327,"value":0.361},{"epoch":328,"value":0.435},{"epoch":329,"value":0.392},{"epoch":330,"value":0.394},{"epoch":331,"value":0.375},{"epoch":332,"value":0.358},{"epoch":333,"value":0.378},{"epoch":334,"value":0.357},{"epoch":335,"value":0.364},{"epoch":336,"value":0.372},{"epoch":337,"value":0.413},{"epoch":338,"value":0.412},{"epoch":339,"value":0.363},{"epoch":340,"value":0.364},{"epoch":341,"value":0.426},{"epoch":342,"value":0.434},{"epoch":343,"value":0.386},{"epoch":344,"value":0.425},{"epoch":345,"value":0.388},{"epoch":346,"value":0.383},{"epoch":347,"value":0.370},{"epoch":348,"value":0.366},{"epoch":349,"value":0.361},{"epoch":351,"value":0.389},{"epoch":352,"value":0.363},{"epoch":353,"value":0.351},{"epoch":354,"value":0.383},{"epoch":355,"value":0.364},{"epoch":356,"value":0.370},{"epoch":357,"value":0.370},{"epoch":358,"value":0.367},{"epoch":359,"value":0.376},{"epoch":360,"value":0.364},{"epoch":361,"value":0.354},{"epoch":362,"value":0.352},{"epoch":363,"value":0.361},{"epoch":365,"value":0.378},{"epoch":366,"value":0.357},{"epoch":367,"value":0.382},{"epoch":368,"value":0.392},{"epoch":369,"value":0.369},{"epoch":370,"value":0.367},{"epoch":371,"value":0.364},{"epoch":372,"value":0.348},{"epoch":373,"value":0.366},{"epoch":374,"value":0.357},{"epoch":375,"value":0.358},{"epoch":376,"value":0.361},{"epoch":377,"value":0.352},{"epoch":378,"value":0.372},{"epoch":379,"value":0.364},{"epoch":380,"value":0.370},{"epoch":381,"value":0.376},{"epoch":382,"value":0.383},{"epoch":383,"value":0.383},{"epoch":384,"value":0.351},{"epoch":385,"value":0.366},{"epoch":386,"value":0.354},{"epoch":387,"value":0.357},{"epoch":388,"value":0.651},{"epoch":389,"value":0.500},{"epoch":390,"value":0.416},{"epoch":391,"value":0.395},{"epoch":393,"value":0.383},{"epoch":394,"value":0.398},{"epoch":395,"value":0.363},{"epoch":396,"value":0.357},{"epoch":397,"value":0.382},{"epoch":398,"value":0.357},{"epoch":399,"value":0.351}
]
},
"vconcat": [
{
"title": {"text": "Validation Accuracy of Link Prediction", "fontSize": 34.5, "font": "Lato", "fontWeight": "bold", "color": "#363a3d", "anchor": "middle", "frame": "group", "dx": -22, "offset": 14},
"width": 1064,
"height": 443,
"encoding": {
"x": {"field": "epoch", "type": "quantitative", "scale": {"domain": [0, 399], "nice": false}, "axis": {"values": [0, 100, 200, 300], "grid": false, "domain": false, "ticks": true, "tickSize": 23, "tickWidth": 2, "tickColor": "#e3e3e6", "offset": -12, "labelPadding": 17, "labelFontSize": 23, "labelFont": "Lato", "labelColor": "#6b6f7e", "labelFlush": false, "title": "epoch", "titleFont": "Lato", "titleFontSize": 26, "titleFontWeight": "normal", "titleColor": "#6b6f7e", "titleAlign": "right", "titleBaseline": "alphabetic", "titleX": 1050, "titleY": -1}},
"y": {"field": "value", "type": "quantitative", "scale": {"domain": [0.5, 0.86], "nice": false, "zero": false}, "axis": {"values": [0.5, 0.6, 0.7, 0.8], "format": ".1f", "grid": true, "gridColor": "#e8e8eb", "gridWidth": 1.5, "domain": false, "ticks": false, "tickSize": 0, "labelPadding": 29, "labelFontSize": 23.5, "labelFont": "Lato", "labelColor": "#6b6f7e", "title": null}}
},
"layer": [
{"data": {"name": "acc40"}, "mark": {"type": "line", "strokeWidth": 2.6}, "encoding": {"color": {"datum": "RevGNN 40 Layers - 10 BGCs", "type": "nominal", "scale": {"domain": ["RevGNN 40 Layers - 10 BGCs", "RevGNN 20 Layers - 10 BGCs"], "range": ["#a12864", "#a8694c"]}, "legend": {"orient": "none", "legendX": 38, "legendY": -40, "direction": "horizontal", "title": null, "symbolType": "square", "symbolSize": 340, "symbolStrokeWidth": 2.2, "symbolFillColor": "transparent", "labelFont": "DejaVu Sans Mono", "labelFontSize": 26.5, "labelOffset": 14, "columnPadding": 35, "labelLimit": 700, "padding": 0, "encode": {"labels": {"update": {"fill": [{"test": "datum.value === 'RevGNN 40 Layers - 10 BGCs'", "value": "#a12864"}, {"value": "#a8694c"}]}}}}}}},
{"data": {"name": "acc20"}, "mark": {"type": "line", "strokeWidth": 2.6}, "encoding": {"color": {"datum": "RevGNN 20 Layers - 10 BGCs", "type": "nominal"}}},
{"data": {"name": "acc40"}, "transform": [{"filter": "datum.epoch == 399"}], "mark": {"type": "circle", "size": 80, "opacity": 1, "color": "#a12864"}},
{"data": {"name": "acc20"}, "transform": [{"filter": "datum.epoch == 399"}], "mark": {"type": "circle", "size": 80, "opacity": 1, "color": "#a8694c"}}
]
},
{
"title": {"text": "Validation Loss of Link Prediction", "fontSize": 34.5, "font": "Lato", "fontWeight": "bold", "color": "#363a3d", "anchor": "middle", "frame": "group", "dx": -22, "offset": 14},
"width": 1064,
"height": 441,
"encoding": {
"x": {"field": "epoch", "type": "quantitative", "scale": {"domain": [0, 399], "nice": false}, "axis": {"values": [0, 100, 200, 300], "grid": false, "domain": false, "ticks": true, "tickSize": 23, "tickWidth": 2, "tickColor": "#e3e3e6", "offset": -12, "labelPadding": 17, "labelFontSize": 23, "labelFont": "Lato", "labelColor": "#6b6f7e", "labelFlush": false, "title": "epoch", "titleFont": "Lato", "titleFontSize": 26, "titleFontWeight": "normal", "titleColor": "#6b6f7e", "titleAlign": "right", "titleBaseline": "alphabetic", "titleX": 1050, "titleY": -1}},
"y": {"field": "value", "type": "quantitative", "scale": {"domain": [0.3, 0.692], "nice": false, "zero": false}, "axis": {"values": [0.3, 0.4, 0.5, 0.6], "format": ".1f", "grid": true, "gridColor": "#e8e8eb", "gridWidth": 1.5, "domain": false, "ticks": false, "tickSize": 0, "labelPadding": 29, "labelFontSize": 23.5, "labelFont": "Lato", "labelColor": "#6b6f7e", "title": null}}
},
"layer": [
{"data": {"name": "loss40"}, "mark": {"type": "line", "strokeWidth": 2.6}, "encoding": {"color": {"datum": "RevGNN 40 Layers - 10 BGCs", "type": "nominal", "scale": {"domain": ["RevGNN 40 Layers - 10 BGCs", "RevGNN 20 Layers - 10 BGCs"], "range": ["#a12864", "#a8694c"]}, "legend": {"orient": "none", "legendX": 38, "legendY": -40, "direction": "horizontal", "title": null, "symbolType": "square", "symbolSize": 340, "symbolStrokeWidth": 2.2, "symbolFillColor": "transparent", "labelFont": "DejaVu Sans Mono", "labelFontSize": 26.5, "labelOffset": 14, "columnPadding": 35, "labelLimit": 700, "padding": 0, "encode": {"labels": {"update": {"fill": [{"test": "datum.value === 'RevGNN 40 Layers - 10 BGCs'", "value": "#a12864"}, {"value": "#a8694c"}]}}}}}}},
{"data": {"name": "loss20"}, "mark": {"type": "line", "strokeWidth": 2.6}, "encoding": {"color": {"datum": "RevGNN 20 Layers - 10 BGCs", "type": "nominal"}}},
{"data": {"name": "loss40"}, "transform": [{"filter": "datum.epoch == 399"}], "mark": {"type": "circle", "size": 80, "opacity": 1, "color": "#a12864"}},
{"data": {"name": "loss20"}, "transform": [{"filter": "datum.epoch == 399"}], "mark": {"type": "circle", "size": 80, "opacity": 1, "color": "#a8694c"}}
]
}
]
}
